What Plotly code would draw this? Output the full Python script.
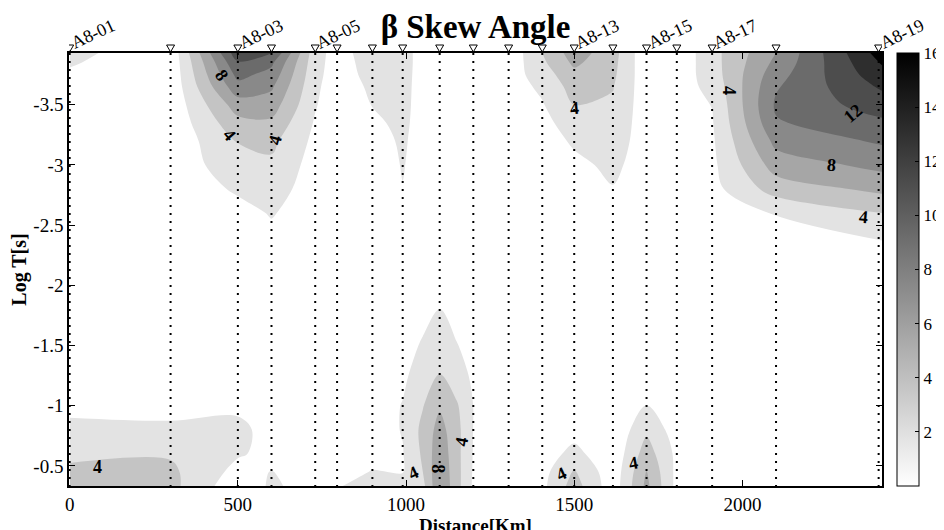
import plotly.graph_objects as go

# ---------------- data ----------------
station_x = [0, 300, 500, 600, 730, 795, 900, 990, 1100, 1200, 1305, 1405,
             1500, 1615, 1715, 1805, 1910, 2100, 2405]
station_names = ["A8-01", "A8-02", "A8-03", "A8-04", "A8-05", "A8-06", "A8-07",
                 "A8-08", "A8-09", "A8-10", "A8-11", "A8-12", "A8-13", "A8-14",
                 "A8-15", "A8-16", "A8-17", "A8-18", "A8-19"]
shown_names = ["A8-01", "A8-03", "A8-05", "A8-13", "A8-15", "A8-17", "A8-19"]

grid_x = [0, 300, 500, 600, 730, 795, 900, 990, 1050, 1100, 1150, 1200, 1305,
          1405, 1500, 1615, 1715, 1805, 1910, 2100, 2415]
log_t = [-3.93, -3.85, -3.75, -3.65, -3.5, -3.35, -3.2, -3.0, -2.8, -2.6, -2.4,
         -2.1, -1.8, -1.5, -1.25, -1.0, -0.8, -0.6, -0.45, -0.33]

# beta skew angle, one list per grid column (top -> bottom, following log_t)
beta_columns = [
    [2.6, 2.2, 1.7, 1.3, 1.0, 0.8, 0.7, 0.6, 0.5, 0.5, 0.5, 0.5, 0.5, 0.6, 0.9, 1.6, 2.4, 3.7, 4.3, 4.6],
    [0.5, 0.5, 0.5, 0.5, 0.5, 0.5, 0.5, 0.5, 0.5, 0.4, 0.4, 0.4, 0.4, 0.5, 0.8, 1.5, 2.3, 3.8, 4.4, 4.6],
    [13.3, 11.8, 10.6, 9.3, 7.0, 5.4, 4.1, 3.4, 2.3, 1.3, 0.8, 0.6, 0.5, 0.6, 0.9, 1.6, 2.5, 2.2, 1.4, 0.6],
    [12.2, 10.4, 9.3, 8.3, 7.0, 5.6, 4.5, 3.6, 2.9, 2.15, 1.5, 1.0, 0.6, 0.5, 0.6, 0.8, 1.3, 1.5, 2.05, 2.3],
    [2.8, 2.7, 2.55, 2.4, 2.15, 1.8, 1.5, 1.2, 1.0, 0.9, 0.8, 0.8, 0.8, 0.8, 0.8, 0.9, 1.0, 1.1, 1.2, 1.2],
    [1.2, 1.15, 1.1, 0.9, 0.8, 0.7, 0.6, 0.5, 0.5, 0.5, 0.5, 0.5, 0.5, 0.5, 0.5, 0.6, 0.8, 1.2, 1.6, 1.95],
    [3.0, 2.8, 2.6, 2.35, 2.05, 1.75, 1.4, 1.0, 0.7, 0.5, 0.4, 0.4, 0.4, 0.5, 0.6, 0.8, 1.1, 1.6, 2.05, 2.3],
    [2.5, 2.5, 2.45, 2.4, 2.35, 2.3, 2.2, 2.1, 1.95, 1.6, 1.3, 1.0, 0.9, 1.0, 1.6, 2.1, 2.1, 1.9, 1.95, 2.4],
    [1.5, 1.5, 1.5, 1.5, 1.5, 1.45, 1.4, 1.3, 1.2, 1.0, 0.9, 0.8, 1.2, 2.28, 3.0, 3.9, 4.53, 4.32, 4.0, 3.4],
    [0.8, 0.8, 0.8, 0.8, 0.7, 0.7, 0.6, 0.6, 0.6, 0.6, 0.7, 1.2, 2.05, 3.1, 4.05, 5.7, 6.8, 7.4, 7.7, 7.9],
    [0.6, 0.6, 0.6, 0.6, 0.6, 0.6, 0.6, 0.6, 0.6, 0.6, 0.6, 0.9, 1.2, 2.11, 2.77, 4.27, 4.7, 4.7, 4.77, 4.8],
    [0.5, 0.5, 0.5, 0.5, 0.5, 0.5, 0.5, 0.5, 0.5, 0.5, 0.5, 0.5, 0.5, 1.2, 1.7, 1.98, 1.95, 1.9, 1.8, 1.7],
    [0.5, 0.7, 1.0, 1.0, 0.9, 0.8, 0.7, 0.6, 0.5, 0.5, 0.5, 0.5, 0.5, 0.5, 0.6, 0.8, 1.0, 1.0, 0.9, 0.8],
    [4.0, 3.6, 3.0, 2.4, 1.85, 1.4, 1.0, 0.8, 0.6, 0.5, 0.5, 0.5, 0.5, 0.5, 0.5, 0.6, 0.8, 1.0, 1.3, 1.5],
    [7.0, 6.4, 5.4, 4.8, 4.0, 3.0, 2.3, 1.5, 1.0, 0.7, 0.6, 0.5, 0.5, 0.5, 0.6, 0.8, 1.2, 2.6, 4.2, 4.9],
    [4.8, 4.6, 4.4, 4.1, 3.7, 3.3, 2.95, 2.45, 1.9, 1.4, 1.0, 0.8, 0.6, 0.5, 0.4, 0.3, 0.3, 0.5, 0.7, 0.8],
    [0.5, 0.6, 0.7, 0.8, 0.9, 1.0, 1.05, 1.0, 0.9, 0.8, 0.7, 0.6, 0.6, 0.6, 0.8, 2.02, 3.6, 5.0, 6.05, 6.5],
    [0.5, 0.6, 0.8, 1.0, 1.2, 1.2, 1.1, 1.0, 0.9, 0.8, 0.7, 0.6, 0.5, 0.5, 0.6, 0.8, 1.0, 1.5, 1.45, 1.4],
    [3.3, 3.2, 3.0, 2.6, 2.05, 1.85, 1.7, 1.55, 1.35, 1.1, 0.9, 0.7, 0.6, 0.5, 0.5, 0.5, 0.5, 0.5, 0.5, 0.5],
    [8.0, 8.5, 9.2, 9.8, 10.3, 9.8, 8.6, 6.9, 4.9, 2.1, 1.2, 0.8, 0.6, 0.5, 0.5, 0.5, 0.5, 0.5, 0.5, 0.5],
    [17.0, 16.2, 15.3, 14.3, 13.0, 11.6, 10.3, 8.6, 6.5, 4.0, 2.1, 1.0, 0.6, 0.5, 0.5, 0.5, 0.5, 0.5, 0.5, 0.5],
]

# contour labels (value text, x km, log T, rotation)
clabel_text = ["8", "4", "4", "4", "4", "12", "8", "4", "4", "4", "8", "4", "4", "4"]
clabel_x = [451, 476, 610, 1502, 1958, 2330, 2265, 2359, 84, 1021, 1095, 1165, 1462, 1677]
clabel_y = [-3.745, -3.25, -3.21, -3.47, -3.62, -3.43, -3.0, -2.57, -0.495, -0.44, -0.48, -0.70, -0.43, -0.52]
clabel_rot = [55, 50, -75, -5, 90, -40, 5, 5, 0, -25, 90, -80, -25, -10]

cbar_ticks = [2, 4, 6, 8, 10, 12, 14, 16]
x_ticks = [0, 500, 1000, 1500, 2000]
y_ticks = [-3.5, -3, -2.5, -2, -1.5, -1, -0.5]
y_ticktext = ["-3.5", "-3", "-2.5", "-2", "-1.5", "-1", "-0.5"]

# ---------------- figure ----------------
FONT = "Liberation Serif"
z = [list(row) for row in zip(*beta_columns)]

band_scale = [[0.0, "#ffffff"], [0.125, "#e3e3e3"], [0.25, "#c4c4c4"],
              [0.375, "#a6a6a6"], [0.5, "#898989"], [0.625, "#6b6b6b"],
              [0.75, "#4d4d4d"], [0.875, "#2e2e2e"], [1.0, "#000000"]]

fig = go.Figure()
fig.add_trace(go.Contour(
    x=grid_x, y=log_t, z=z,
    autocontour=False,
    contours=dict(start=2, end=16, size=2, coloring="fill", showlines=False),
    line=dict(width=0),
    colorscale=band_scale, showscale=False, hoverinfo="skip",
))

# dotted station lines
y_top, y_bot = log_t[0], log_t[-1]
lx, ly = [], []
for s in station_x:
    lx += [s, s, None]
    ly += [y_top, y_bot, None]
fig.add_trace(go.Scatter(x=lx, y=ly, mode="lines",
                         line=dict(color="black", width=2, dash="2px,6px"),
                         hoverinfo="skip", showlegend=False))

# continuous colour bar
fig.add_trace(go.Scatter(
    x=[None], y=[None], mode="markers", showlegend=False, hoverinfo="skip",
    marker=dict(color=[0], cmin=0, cmax=16,
                colorscale=[[0, "#ffffff"], [1, "#000000"]], showscale=True,
                colorbar=dict(thickness=22, thicknessmode="pixels", len=1,
                              lenmode="fraction", y=0.5, yanchor="middle",
                              x=1.0185, xanchor="left", xpad=0, ypad=0,
                              outlinewidth=1, outlinecolor="black",
                              tickvals=cbar_ticks, ticks="inside", ticklen=4,
                              tickcolor="black",
                              tickfont=dict(family=FONT, size=17, color="black")))))

# station triangles (open, pointing down) sitting on the top frame
shapes = []
for s in station_x:
    shapes.append(dict(type="path", xref="x", yref="paper",
                       xsizemode="pixel", ysizemode="pixel",
                       xanchor=s, yanchor=1,
                       path="M -4,8 L 4,8 L 0,1 Z",
                       line=dict(color="black", width=1), fillcolor="rgba(0,0,0,0)"))

annotations = []
for name, s in zip(station_names, station_x):
    if name in shown_names:
        annotations.append(dict(x=s, y=1, xref="x", yref="paper", text=name,
                                showarrow=False, xanchor="center", yanchor="middle",
                                textangle=-25, xshift=23, yshift=19,
                                font=dict(family=FONT, size=18, color="black")))
for t, cx, cy, r in zip(clabel_text, clabel_x, clabel_y, clabel_rot):
    annotations.append(dict(x=cx, y=cy, xref="x", yref="y", text="<b>%s</b>" % t,
                            showarrow=False, textangle=r,
                            font=dict(family=FONT, size=18, color="black")))

fig.update_layout(
    width=944, height=530,
    margin=dict(l=61, r=70, t=45, b=52, autoexpand=False),
    paper_bgcolor="white", plot_bgcolor="white",
    font=dict(family=FONT, color="black"),
    title=dict(text="<b>β Skew Angle</b>", x=0.5, xref="paper", xanchor="center",
               yref="container", y=0.987, yanchor="top",
               font=dict(family=FONT, size=33, color="black")),
    annotations=annotations,
    shapes=shapes,
    showlegend=False,
)
fig.update_xaxes(range=[-2, 2415], tickvals=x_ticks, ticks="inside", ticklen=6,
                 tickcolor="black", showline=True, linecolor="black", linewidth=1.5,
                 mirror="ticks", showgrid=False, zeroline=False,
                 tickfont=dict(family=FONT, size=19, color="black"),
                 title=dict(text="<b>Distance[Km]</b>", standoff=0,
                            font=dict(family=FONT, size=19, color="black")),
                 automargin=False)
fig.update_yaxes(range=[-0.333, -3.93], tickvals=y_ticks, ticktext=y_ticktext,
                 ticks="inside", ticklen=6, tickcolor="black", showline=True,
                 linecolor="black", linewidth=1.5, mirror="ticks", showgrid=False,
                 zeroline=False, tickfont=dict(family=FONT, size=19, color="black"),
                 title=dict(text="<b>Log T[s]</b>", standoff=14,
                            font=dict(family=FONT, size=20, color="black")),
                 automargin=False)

fig.write_html("out.html")
